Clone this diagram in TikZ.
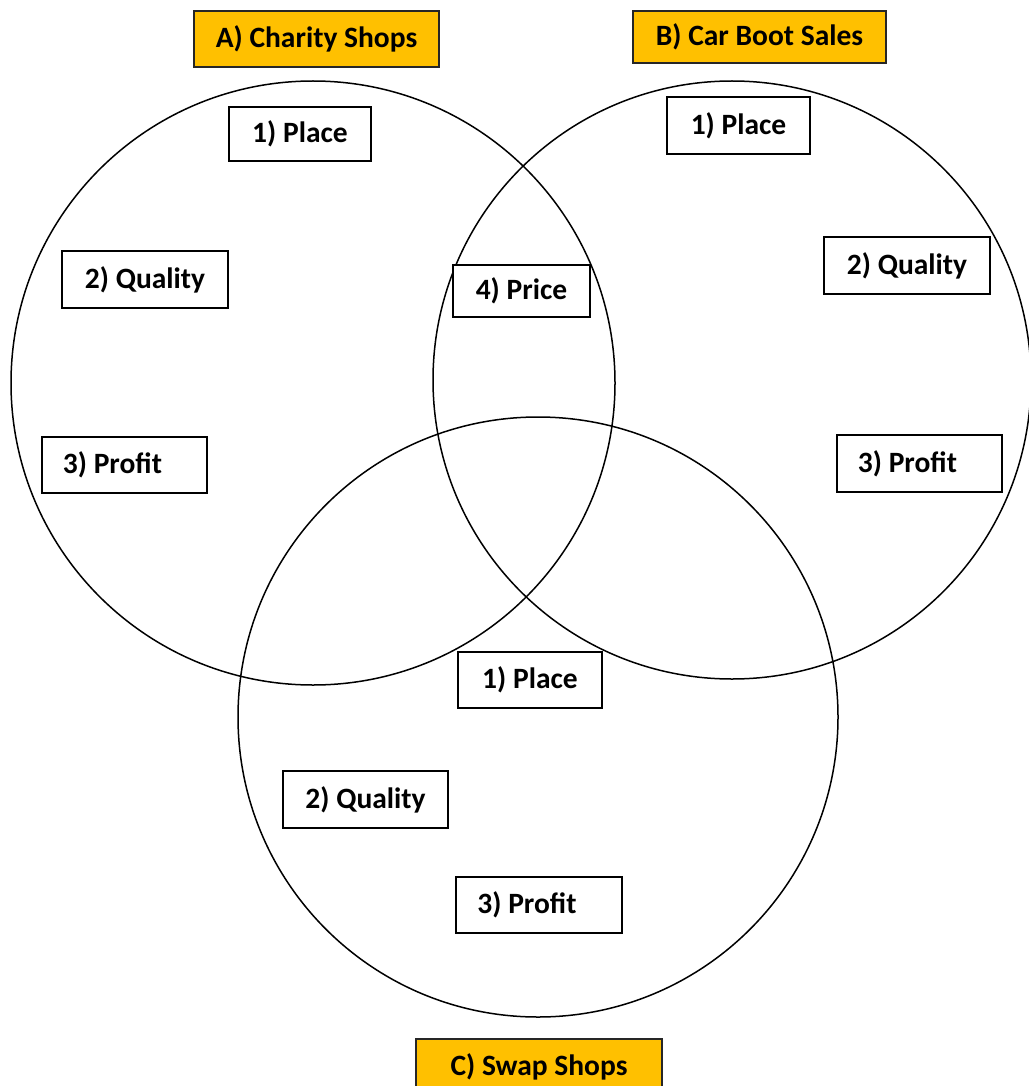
\documentclass[tikz,border=0pt]{standalone}
\usepackage{fontspec}
\setmainfont{Carlito}
\definecolor{labelfill}{HTML}{FFC000}
\tikzset{
  circ/.style={draw=black, line width=1.5pt},
  itembox/.style={draw=black, fill=white, line width=2pt, font=\fontsize{29.5}{33}\selectfont\bfseries, inner sep=0pt},
  labelbox/.style={draw=black!85, fill=labelfill, line width=1.6pt, font=\fontsize{29.5}{33}\selectfont\bfseries, inner sep=0pt}
}
\begin{document}
\begin{tikzpicture}[x=1pt,y=1pt]
\useasboundingbox (0,0) rectangle (1028,-1086);
% circles
\draw[circ] (313,-383) circle (302);
\draw[circ] (732,-380) circle (299);
\draw[circ] (538,-717) circle (300);
% labels
\node[labelbox, minimum width=245, minimum height=56] (LA) at (316.5,-39) {A) Charity Shops};
\node[labelbox, minimum width=253, minimum height=52] (LB) at (759.5,-37) {B) Car Boot Sales};
\node[labelbox, minimum width=246, minimum height=60, text depth=0pt] (LC) at (539,-1069) {\raisebox{8pt}{C) Swap Shops}};
% circle A
\node[itembox, minimum width=142, minimum height=54] (A1) at (300,-134) {1) Place};
\node[itembox, minimum width=166, minimum height=57] (A2) at (145,-279.5) {2) Quality};
\node[itembox, minimum width=165, minimum height=56] (A3) at (124.5,-465) {3) Profit\hspace*{24pt}};
% intersection
\node[itembox, minimum width=137, minimum height=52] (P4) at (521.5,-291) {4) Price};
% circle B
\node[itembox, minimum width=143, minimum height=57] (B1) at (738.5,-125.5) {1) Place};
\node[itembox, minimum width=166, minimum height=57] (B2) at (907,-265.5) {2) Quality};
\node[itembox, minimum width=165, minimum height=57] (B3) at (919.5,-463.5) {3) Profit\hspace*{24pt}};
% circle C
\node[itembox, minimum width=144, minimum height=56] (C1) at (530,-680) {1) Place};
\node[itembox, minimum width=165, minimum height=57] (C2) at (365.5,-799.5) {2) Quality};
\node[itembox, minimum width=166, minimum height=56] (C3) at (539,-905) {3) Profit\hspace*{24pt}};
\end{tikzpicture}
\end{document}
